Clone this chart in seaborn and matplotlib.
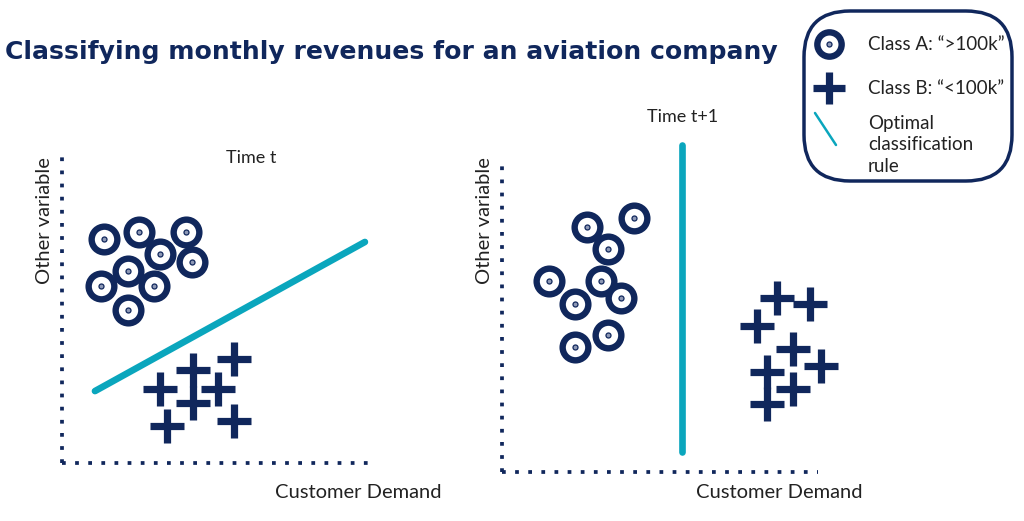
import numpy as np
import seaborn as sns
import matplotlib.pyplot as plt
from matplotlib.patches import FancyBboxPatch
from matplotlib.lines import Line2D

navy = '#10275c'
teal = '#0aa6bd'

# Time t (left panel), axes run 0..10
left_a_x = [1.35, 2.48, 3.99, 3.15, 4.18, 2.12, 1.25, 2.96, 2.12]
left_a_y = [7.23, 7.45, 7.45, 6.74, 6.48, 6.19, 5.71, 5.71, 4.94]
left_b_x = [3.15, 4.21, 4.21, 5.02, 5.53, 3.38, 5.53]
left_b_y = [2.39, 3.00, 1.94, 2.39, 3.35, 1.19, 1.35]
left_rule_x = [1.06, 9.74]
left_rule_y = [2.32, 7.13]

# Time t+1 (right panel)
right_a_x = [2.69, 4.18, 3.35, 1.49, 3.13, 3.77, 2.31, 3.35, 2.31]
right_a_y = [7.90, 8.19, 7.19, 6.16, 6.16, 5.61, 5.42, 4.42, 4.03]
right_b_x = [8.70, 9.75, 8.07, 9.21, 10.09, 8.39, 9.21, 8.39]
right_b_y = [5.61, 5.42, 4.71, 3.97, 3.42, 3.23, 2.68, 2.19]
right_rule_x = [5.70, 5.70]
right_rule_y = [0.65, 10.55]

sns.set_style('white')
plt.rcParams['font.family'] = ['Lato', 'DejaVu Sans']

fig = plt.figure(figsize=(10.24, 5.21), dpi=100)
W, H = 1024, 521
txt = '#222222'


def panel(px0, px1, py_top, py_bot):
    return fig.add_axes([px0 / W, (H - py_bot) / H, (px1 - px0) / W, (py_bot - py_top) / H])


def draw(ax, ax_, ay_, bx_, by_, rx, ry, title, tx, ty):
    sns.lineplot(x=rx, y=ry, ax=ax, color=teal, linewidth=4.8, estimator=None,
                 errorbar=None, solid_capstyle='round', clip_on=False, sort=False)
    sns.scatterplot(x=ax_, y=ay_, ax=ax, marker='o', s=18.5 ** 2, facecolor='white',
                    edgecolor=navy, linewidth=4.6, clip_on=False, zorder=3)
    sns.scatterplot(x=ax_, y=ay_, ax=ax, marker='o', s=3.6 ** 2, facecolor='#8e99b6',
                    edgecolor=navy, linewidth=0.9, clip_on=False, zorder=4)
    sns.scatterplot(x=bx_, y=by_, ax=ax, marker='+', s=24 ** 2, color=navy,
                    linewidth=5.2, clip_on=False, zorder=3)
    ax.set_xlim(0, 10)
    ax.set_ylim(0, 10)
    ax.set_xticks([])
    ax.set_yticks([])
    for s in ['top', 'right']:
        ax.spines[s].set_visible(False)
    for s in ['left', 'bottom']:
        ax.spines[s].set_linestyle((0, (1, 2.5)))
        ax.spines[s].set_linewidth(2.7)
        ax.spines[s].set_color(navy)
        ax.spines[s].set_capstyle('butt')
    ax.text(tx, ty, title, transform=ax.transAxes, ha='center', va='center',
            fontsize=13, color=txt)
    ax.patch.set_alpha(0)


ax1 = panel(62, 373, 153, 463)
draw(ax1, left_a_x, left_a_y, left_b_x, left_b_y, left_rule_x, left_rule_y,
     'Time t', (251 - 62) / 311, (463 - 158) / 310)
ax2 = panel(502, 818, 162, 472)
draw(ax2, right_a_x, right_a_y, right_b_x, right_b_y, right_rule_x, right_rule_y,
     'Time t+1', (683 - 502) / 316, (472 - 117) / 310)

# axis labels
for x in [44, 484]:
    fig.text(x / W, 1 - 221 / H, 'Other variable', rotation=90, ha='center', va='center',
             fontsize=14.5, color=txt)
for x in [358, 779]:
    fig.text(x / W, 1 - 492 / H, 'Customer Demand', ha='center', va='center',
             fontsize=14.5, color=txt)

fig.text(5 / W, 1 - 52 / H, 'Classifying monthly revenues for an aviation company',
         ha='left', va='center', fontsize=18.1, fontweight='bold', color=navy,
         family='DejaVu Sans')

# legend box
box = FancyBboxPatch((804 / W, 1 - 181 / H), 208 / W, 170 / H,
                     boxstyle='round,pad=0,rounding_size=0.045', transform=fig.transFigure,
                     facecolor='white', edgecolor=navy, linewidth=2.5, mutation_aspect=W / H)
fig.patches.append(box)
fig.add_artist(Line2D([829 / W], [1 - 44 / H], marker='o', markersize=17.5, markerfacecolor='white',
                      markeredgecolor=navy, markeredgewidth=4.6, transform=fig.transFigure))
fig.add_artist(Line2D([829 / W], [1 - 44 / H], marker='o', markersize=3.6, markerfacecolor='#8e99b6',
                      markeredgecolor=navy, markeredgewidth=0.9, transform=fig.transFigure))
fig.add_artist(Line2D([829 / W], [1 - 88 / H], marker='+', markersize=23, markeredgecolor=navy,
                      markeredgewidth=5.2, transform=fig.transFigure))
fig.add_artist(Line2D([815 / W, 836 / W], [1 - 113 / H, 1 - 145 / H], color=teal, linewidth=1.8,
                      transform=fig.transFigure))
fig.text(868 / W, 1 - 44 / H, 'Class A: \u201c>100k\u201d', ha='left', va='center', fontsize=13.5, color=txt)
fig.text(868 / W, 1 - 88 / H, 'Class B: \u201c<100k\u201d', ha='left', va='center', fontsize=13.5, color=txt)
fig.text(868 / W, 1 - 145 / H, 'Optimal\nclassification\nrule', ha='left', va='center',
         fontsize=13.5, color=txt, linespacing=1.3)

fig.savefig('out.png', dpi=100)
